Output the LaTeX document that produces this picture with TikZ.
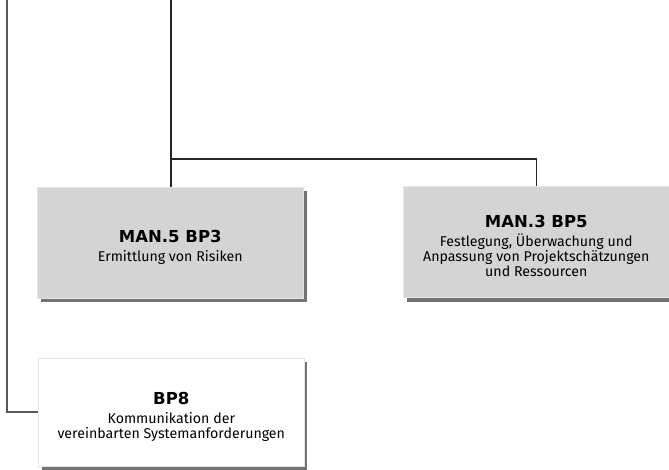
\documentclass[tikz,border=0pt]{standalone}
\usepackage{fontspec}
\setmainfont{Fira Sans}
\newfontfamily\headfont{DejaVu Sans}
\begin{document}
\begin{tikzpicture}[x=1pt,y=-1pt,
  conn/.style={draw=black!85, line width=1.1pt},
  outer/.style={draw=black!65, line width=1.8pt},
  card/.style={rectangle, minimum width=266pt, minimum height=111pt,
    align=center, inner sep=4pt, font=\fontsize{14.2}{15}\selectfont},
  graycard/.style={card, fill=black!17, draw=black!10, line width=0.6pt},
  whitecard/.style={card, fill=white, draw=black!10, line width=0.6pt},
  shade/.style={fill=black!55}
]
% card heading: bold, with a strut that keeps the text block slightly low
\newcommand{\cardhead}[1]{{\headfont\fontsize{16.5}{22}\selectfont\rule{0pt}{21pt}\bfseries #1}}
\useasboundingbox (0,0) rectangle (669,470);

% drop shadows behind the cards
\fill[shade] (41,191) rectangle (307,302);
\fill[shade] (407,190) rectangle (673,302);
\fill[shade] (42,362) rectangle (307,472);

% cards
\node[graycard, anchor=north west] (risk) at (37,187)
  {\cardhead{MAN.5 BP3}\\[4pt]Ermittlung von Risiken};
\node[graycard, anchor=north west] (est) at (403,186)
  {\cardhead{MAN.3 BP5}\\[4pt]Festlegung, Überwachung und\\Anpassung von Projektschätzungen\\und Ressourcen};
\node[whitecard, anchor=north west, minimum height=108pt] (comm) at (38,358)
  {\cardhead{BP8}\\[4pt]Kommunikation der\\vereinbarten Systemanforderungen};

% connectors
\coordinate (topc) at (171,0);
\coordinate (topl) at (7,0);
\draw[conn] (topc) -- (risk.north -| topc);
\draw[conn] (171,159) -| (est.north);
\draw[outer] (topl) |- (comm.west);
\end{tikzpicture}
\end{document}
